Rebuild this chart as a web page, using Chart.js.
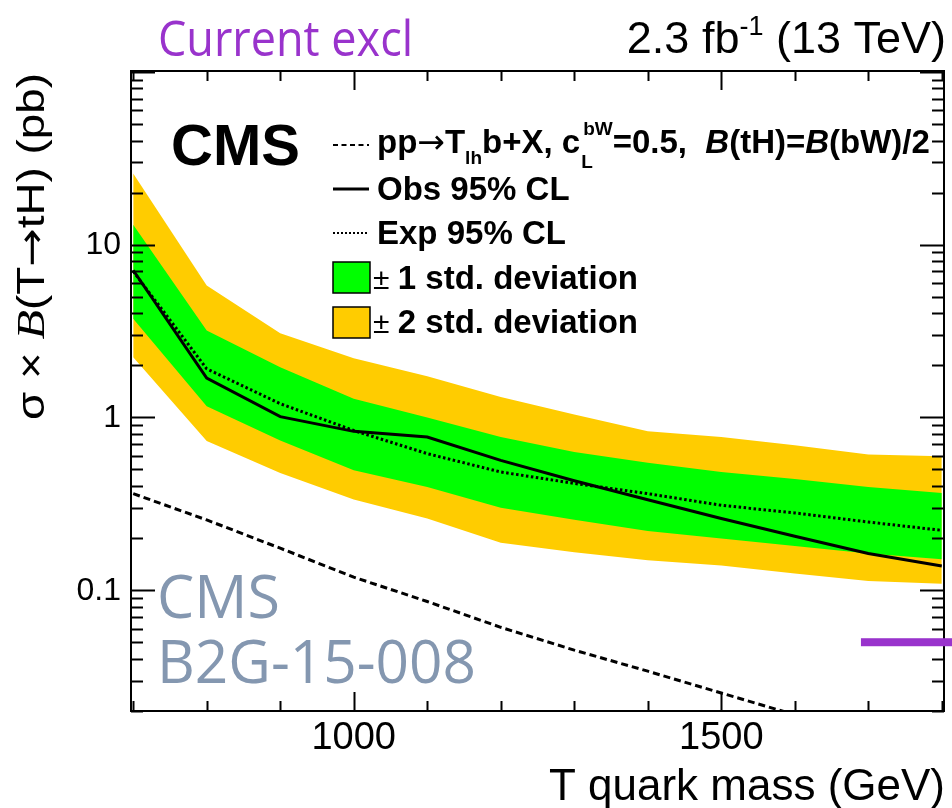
<!DOCTYPE html>
<html>
<head>
<meta charset="utf-8">
<script src="https://cdn.jsdelivr.net/npm/chart.js@4.4.0/dist/chart.umd.min.js"></script>
<style>
  body { margin: 0; background: #fff; }
  canvas { display: block; }
</style>
</head>
<body>
<canvas id="limitChart" width="952" height="808"></canvas>
<script>
// T -> tH cross section limits (pb) vs T quark mass (GeV)
const masses   = [700, 800, 900, 1000, 1100, 1200, 1300, 1400, 1500, 1600, 1700, 1800];
const observed = [7.1, 1.69, 1.01, 0.83, 0.77, 0.564, 0.43, 0.334, 0.26, 0.205, 0.163, 0.138];
const expected = [7.0, 1.91, 1.2, 0.84, 0.617, 0.483, 0.415, 0.362, 0.31, 0.28, 0.248, 0.222];
const plus1    = [13.0, 3.18, 1.95, 1.28, 1.0, 0.77, 0.63, 0.547, 0.483, 0.44, 0.395, 0.365];
const minus1   = [3.72, 1.16, 0.736, 0.494, 0.395, 0.30, 0.256, 0.22, 0.199, 0.18, 0.163, 0.151];
const plus2    = [25.8, 5.79, 3.07, 2.2, 1.73, 1.31, 1.04, 0.83, 0.77, 0.69, 0.61, 0.595];
const minus2   = [2.23, 0.73, 0.476, 0.335, 0.26, 0.188, 0.166, 0.149, 0.139, 0.125, 0.113, 0.109];
const theory   = [0.362, 0.255, 0.175, 0.119, 0.086, 0.061, 0.045, 0.034, 0.0254, 0.019, 0.0142, 0.0106];

const xTickLabels = [1000, 1500];
const yTickLabels = ["0.1", "1", "10"];

// current exclusion marker
const exclMass = 1690;
const exclLimit = 0.05;

const pts = (ys) => masses.map((m, i) => ({ x: m, y: ys[i] }));

const SANS = '"Liberation Sans", Arial, Helvetica, sans-serif';
const SERIF = '"Liberation Serif", "Times New Roman", serif';
const ARROW = '"DejaVu Sans", sans-serif';
const CAL = '"Open Sans", "Noto Sans", sans-serif';

// draws a list of text pieces one after another
function rich(ctx, x, y, parts) {
	let cx = x;
	for (const p of parts) {
		ctx.font = p.f;
		ctx.fillText(p.t, cx + (p.dx || 0), y + (p.dy || 0));
		if (!p.stay) cx += ctx.measureText(p.t).width + (p.dx || 0);
	}
	return cx;
}
function richWidth(ctx, parts) {
	let w = 0;
	for (const p of parts) {
		ctx.font = p.f;
		if (!p.stay) w += ctx.measureText(p.t).width + (p.dx || 0);
	}
	return w;
}
// text squeezed horizontally
function narrow(ctx, str, x, y, font, sx) {
	ctx.save();
	ctx.font = font;
	ctx.translate(x, y);
	ctx.scale(sx, 1);
	ctx.fillText(str, 0, 0);
	ctx.restore();
}

const rootStyle = {
	id: "rootStyle",
	afterDraw(chart) {
		const ctx = chart.ctx;
		const a = chart.chartArea;
		const xs = chart.scales.x;
		const ys = chart.scales.y;
		ctx.save();
		ctx.strokeStyle = "#000";
		ctx.fillStyle = "#000";

		// frame
		ctx.lineWidth = 2;
		ctx.strokeRect(a.left, a.top, a.right - a.left, a.bottom - a.top);

		// x ticks, bottom and top, pointing inward
		for (let m = 700; m <= 1800; m += 100) {
			const px = Math.round(xs.getPixelForValue(m)) + 0.5;
			const len = m % 500 === 0 ? 19 : 10;
			ctx.beginPath();
			ctx.moveTo(px, a.bottom); ctx.lineTo(px, a.bottom - len);
			ctx.moveTo(px, a.top); ctx.lineTo(px, a.top + len);
			ctx.stroke();
		}
		// y ticks, left and right
		for (let d = 0.01; d < 200; d *= 10) {
			for (let k = 1; k <= 9; k++) {
				const v = d * k;
				if (v < ys.min || v > ys.max) continue;
				const py = Math.round(ys.getPixelForValue(v)) + 0.5;
				const len = k === 1 ? 24 : 12;
				ctx.beginPath();
				ctx.moveTo(a.left, py); ctx.lineTo(a.left + len, py);
				ctx.moveTo(a.right, py); ctx.lineTo(a.right - len, py);
				ctx.stroke();
			}
		}

		// tick labels
		ctx.font = "38px " + SANS;
		ctx.textAlign = "center";
		ctx.textBaseline = "alphabetic";
		xTickLabels.forEach(v => ctx.fillText(String(v), xs.getPixelForValue(v), 749));
		ctx.font = "32px " + SANS;
		ctx.textAlign = "right";
		ctx.textBaseline = "middle";
		yTickLabels.forEach(v => ctx.fillText(v, 121, ys.getPixelForValue(Number(v)) + 1));

		// axis titles
		ctx.textBaseline = "alphabetic";
		ctx.textAlign = "right";
		ctx.font = "44px " + SANS;
		ctx.fillText("T quark mass (GeV)", 945, 800);

		const yTitle = [
			{ t: "\u03c3 \u00d7 ", f: "38px " + SANS },
			{ t: "B", f: "italic 40px " + SERIF },
			{ t: "(T", f: "38px " + SANS },
			{ t: "\u2192", f: "38px " + ARROW },
			{ t: "tH) (pb)", f: "38px " + SANS }
		];
		ctx.save();
		ctx.translate(44, 73);
		ctx.rotate(-Math.PI / 2);
		ctx.textAlign = "left";
		const yw = richWidth(ctx, yTitle);
		ctx.scale(347 / yw, 1);
		rich(ctx, -yw, 0, yTitle);
		ctx.restore();

		// luminosity label
		ctx.textAlign = "left";
		const lumi = [
			{ t: "2.3 fb", f: "45px " + SANS },
			{ t: "-1", f: "27px " + SANS, dy: -18 },
			{ t: " (13 TeV)", f: "45px " + SANS }
		];
		rich(ctx, 946 - richWidth(ctx, lumi), 53, lumi);

		// CMS label
		ctx.font = "bold 58px " + SANS;
		ctx.fillText("CMS", 171, 165);

		// legend
		const lx = 333, tx = 377;
		const B = "bold 33px " + SANS;
		const BI = "italic bold 33px " + SANS;
		const S = "bold 19px " + SANS;
		ctx.lineWidth = 2;
		// theory
		ctx.setLineDash([5, 3.5]);
		ctx.beginPath(); ctx.moveTo(lx, 145); ctx.lineTo(lx + 36, 145); ctx.stroke();
		rich(ctx, tx, 153, [
			{ t: "pp", f: B },
			{ t: "\u2192", f: "33px " + ARROW },
			{ t: "T", f: B },
			{ t: "lh", f: S, dy: 11 },
			{ t: "b+X, c", f: B },
			{ t: "L", f: S, dy: 15, stay: true, dx: 1 },
			{ t: "bW", f: S, dy: -18, dx: 3 },
			{ t: "=0.5,  ", f: B },
			{ t: "B", f: BI },
			{ t: "(tH)=", f: B },
			{ t: "B", f: BI },
			{ t: "(bW)/2", f: B }
		]);
		// observed
		ctx.lineWidth = 3;
		ctx.setLineDash([]);
		ctx.beginPath(); ctx.moveTo(lx, 189); ctx.lineTo(lx + 36, 189); ctx.stroke();
		ctx.font = B;
		ctx.fillText("Obs 95% CL", tx, 200);
		// expected
		ctx.lineWidth = 2;
		ctx.setLineDash([2, 2]);
		ctx.beginPath(); ctx.moveTo(lx, 233); ctx.lineTo(lx + 36, 233); ctx.stroke();
		ctx.setLineDash([]);
		ctx.fillText("Exp 95% CL", tx, 244);
		// bands
		ctx.lineWidth = 1.5;
		ctx.fillStyle = "#00ff00";
		ctx.fillRect(lx, 262, 37, 31);
		ctx.strokeRect(lx, 262, 37, 31);
		ctx.fillStyle = "#ffcc00";
		ctx.fillRect(lx, 307, 37, 31);
		ctx.strokeRect(lx, 307, 37, 31);
		ctx.fillStyle = "#000";
		const pm = [{ t: "\u00b1 ", f: "30px " + SANS }];
		rich(ctx, tx - 4, 289, pm.concat([{ t: "1 std. deviation", f: B }]));
		rich(ctx, tx - 4, 333, pm.concat([{ t: "2 std. deviation", f: B }]));

		// annotations
		ctx.fillStyle = "#9933cc";
		narrow(ctx, "Current excl", 158, 56, "50px " + CAL, 0.9);
		ctx.fillStyle = "#8497b0";
		narrow(ctx, "CMS", 157, 618, "61px " + CAL, 0.97);
		narrow(ctx, "B2G-15-008", 157, 683, "61px " + CAL, 0.96);

		// current exclusion bar
		const ey = ys.getPixelForValue(exclLimit);
		ctx.fillStyle = "#9933cc";
		ctx.fillRect(xs.getPixelForValue(exclMass), ey - 4, chart.width - xs.getPixelForValue(exclMass), 8);

		ctx.restore();
	}
};

new Chart(document.getElementById("limitChart"), {
	type: "line",
	data: {
		datasets: [
			{ label: "Obs 95% CL", data: pts(observed), borderColor: "#000", borderWidth: 3, fill: false },
			{ label: "Exp 95% CL", data: pts(expected), borderColor: "#000", borderWidth: 3, borderDash: [2.5, 2.5], fill: false },
			{ label: "theory", data: pts(theory), borderColor: "#000", borderWidth: 3, borderDash: [7, 4], fill: false },
			{ label: "+1 sigma", data: pts(plus1), borderWidth: 0, backgroundColor: "#00ff00", fill: "+1" },
			{ label: "-1 sigma", data: pts(minus1), borderWidth: 0, fill: false },
			{ label: "+2 sigma", data: pts(plus2), borderWidth: 0, backgroundColor: "#ffcc00", fill: "+1" },
			{ label: "-2 sigma", data: pts(minus2), borderWidth: 0, fill: false }
		]
	},
	options: {
		responsive: false,
		animation: false,
		devicePixelRatio: 1,
		layout: { padding: { left: 131, top: 71, right: 8, bottom: 97 } },
		elements: { point: { radius: 0 }, line: { tension: 0, borderCapStyle: "butt" } },
		scales: {
			x: { type: "linear", min: 697, max: 1803, display: false },
			y: { type: "logarithmic", min: 0.02, max: 101, display: false }
		},
		plugins: { legend: { display: false }, tooltip: { enabled: false } }
	},
	plugins: [rootStyle]
});
</script>
</body>
</html>
